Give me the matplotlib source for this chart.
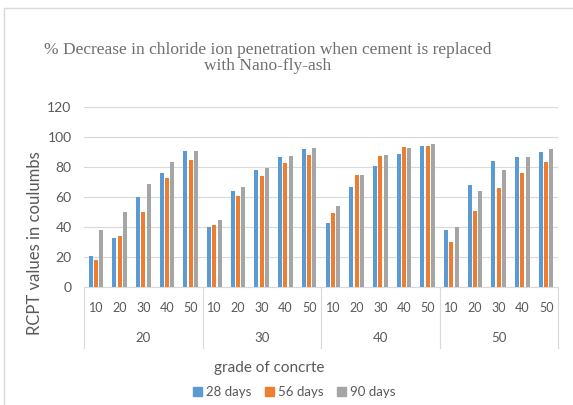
import numpy as np
import matplotlib
matplotlib.use("Agg")
import matplotlib.pyplot as plt
from matplotlib.patches import Rectangle, Patch

# data
grades = ["20", "30", "40", "50"]
replacement = ["10", "20", "30", "40", "50"]
days_28 = [20.4, 32.8, 59.7, 75.9, 90.5,
           39.7, 64.1, 77.9, 86.7, 92.1,
           42.4, 67.0, 80.5, 88.7, 93.8,
           37.7, 68.3, 84.1, 87.0, 89.8]
days_56 = [18.0, 33.9, 49.7, 72.5, 85.0,
           41.3, 61.0, 73.9, 82.7, 88.3,
           49.5, 74.5, 87.2, 93.4, 93.8,
           29.7, 51.0, 65.7, 76.1, 83.4]
days_90 = [37.7, 49.7, 69.0, 83.2, 90.5,
           44.6, 66.8, 79.4, 87.6, 92.7,
           53.7, 75.0, 88.0, 92.5, 95.6,
           39.7, 64.1, 77.9, 86.5, 92.1]
series_names = ["28 days", "56 days", "90 days"]
colors = ["#5B9BD5", "#ED7D31", "#A5A5A5"]

W, H = 573, 405
txt = "#595959"
grid = "#D9D9D9"
sans = "Lato"

fig = plt.figure(figsize=(W / 100, H / 100), dpi=100)
ax = fig.add_axes([84 / W, 1 - 287 / H, (558 - 84) / W, 180 / H])

x = np.arange(len(days_28))
bw = 0.17
off = 0.225
for i, vals in enumerate([days_28, days_56, days_90]):
    ax.bar(x + (i - 1) * off, vals, width=bw, color=colors[i], zorder=3)

ax.set_xlim(-0.5, len(x) - 0.5)
ax.set_ylim(0, 120)
ax.set_yticks(range(0, 121, 20))
ax.yaxis.grid(True, color=grid, lw=0.8, zorder=0)
for s in ["left", "right", "top"]:
    ax.spines[s].set_visible(False)
ax.spines["bottom"].set_color(grid)
ax.spines["bottom"].set_linewidth(0.8)
ax.tick_params(axis="y", length=0, pad=9, labelsize=10, labelcolor=txt)
ax.set_xticks(x, replacement * len(grades))
ax.tick_params(axis="x", length=0, pad=11, labelsize=9, labelcolor=txt)
for lab in ax.get_xticklabels() + ax.get_yticklabels():
    lab.set_fontfamily(sans)

# second level of the category axis
tr = ax.get_xaxis_transform()
n = len(replacement)
for g, name in enumerate(grades):
    ax.text(g * n + (n - 1) / 2, -0.283, name, transform=tr, ha="center", va="center",
            fontsize=9.5, color=txt, family=sans)
for b in range(len(grades) + 1):
    ax.plot([b * n - 0.5] * 2, [0, -0.339], transform=tr, color=grid, lw=0.8, clip_on=False)

fig.text(268 / W, 1 - 58.5 / H,
         "% Decrease in chloride ion penetration when cement is replaced\nwith Nano-fly-ash",
         ha="center", va="center", fontsize=12.5, family="Liberation Serif", color="#6F6F6F",
         linespacing=1.0)
fig.text(35 / W, 1 - 243 / H, "RCPT values in coulumbs", rotation=90, ha="center", va="center",
         fontsize=12, color=txt, family=sans)
fig.text(269 / W, 1 - 368 / H, "grade of concrte", ha="center", va="center",
         fontsize=11, color=txt, family=sans)

handles = [Patch(color=c, label=l) for c, l in zip(colors, series_names)]
leg = fig.legend(handles=handles, loc="center", bbox_to_anchor=(294 / W, 1 - 392 / H), ncol=3,
                 frameon=False, handlelength=0.7, handleheight=0.7, handletextpad=0.3,
                 columnspacing=1.0, prop={"family": sans, "size": 9.5})
for t in leg.get_texts():
    t.set_color(txt)

fig.add_artist(Rectangle((4 / W, -0.1), 1.2, 1.1 - 8 / H, transform=fig.transFigure,
                         fill=False, edgecolor=grid, lw=1))

fig.savefig("out.png", dpi=100)
